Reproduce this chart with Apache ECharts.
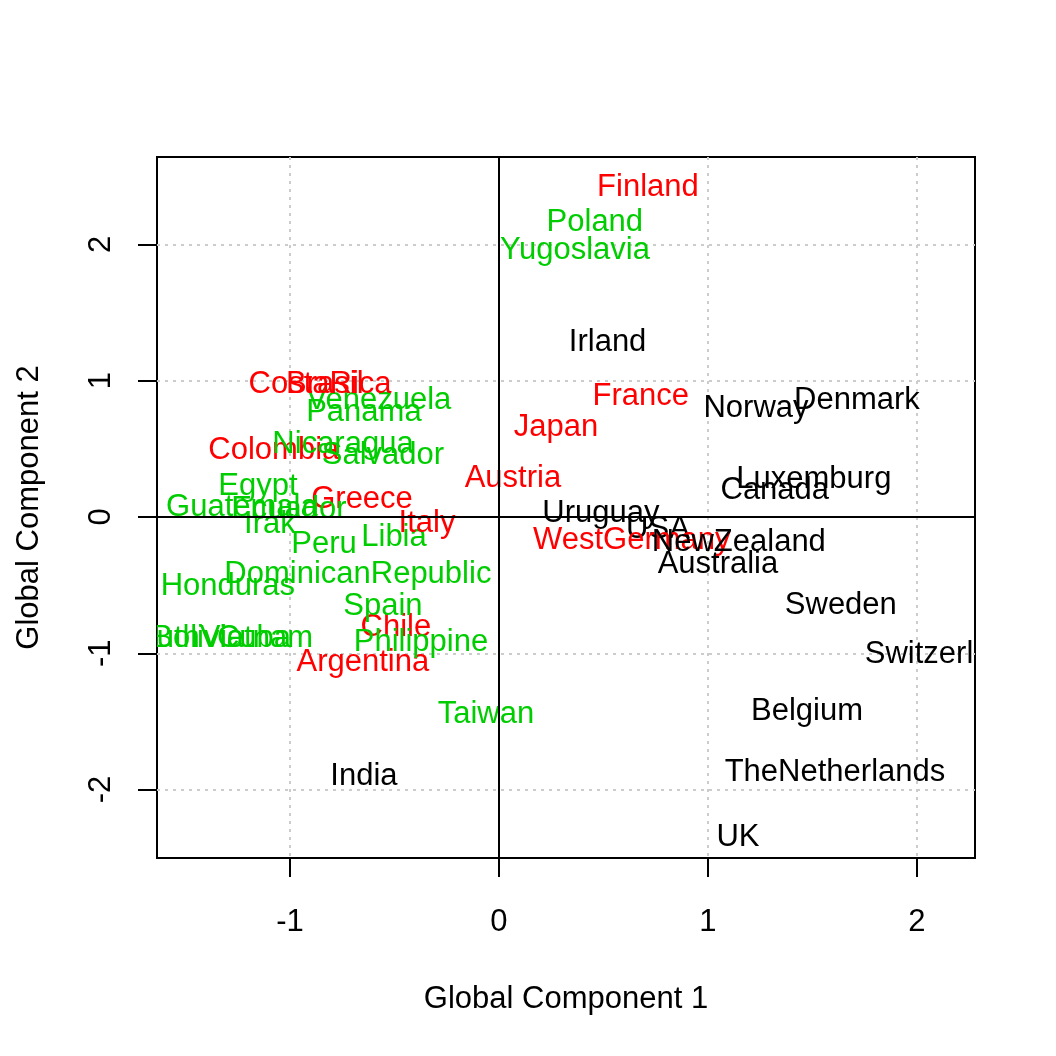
<!DOCTYPE html>
<html>
<head>
<meta charset="utf-8">
<script src="https://cdn.jsdelivr.net/npm/echarts@6/dist/echarts.min.js"></script>
<style>
  html, body { margin: 0; padding: 0; background: #fff; }
  #chart { width: 1056px; height: 1056px; }
</style>
</head>
<body>
<div id="chart"></div>
<script>
// countries and their scores on the two global components
var countries = ['Finland', 'Poland', 'Yugoslavia', 'Irland', 'France', 'Norway', 'Denmark', 'Japan',
    'Luxemburg', 'Canada', 'Austria', 'Uruguay', 'USA', 'WestGermany', 'NewZealand', 'Australia',
    'Sweden', 'Switzerland', 'Belgium', 'TheNetherlands', 'UK', 'India', 'Taiwan', 'Argentina',
    'Chile', 'Philippine', 'Spain', 'DominicanRepublic', 'Honduras', 'SouthVietnam', 'Cuba', 'Bolivia',
    'Peru', 'Libia', 'Italy', 'Greece', 'Irak', 'Ecuador', 'Guatemala', 'Egypt',
    'Colombia', 'Nicaragua', 'Salvador', 'Panama', 'Venezuela', 'CostaRica', 'Brasil'];

var comp1 = [0.713, 0.459, 0.364, 0.52, 0.679, 1.23, 1.713, 0.273,
    1.507, 1.32, 0.067, 0.488, 0.761, 0.636, 1.148, 1.048,
    1.636, 2.134, 1.474, 1.608, 1.144, -0.646, -0.062, -0.651,
    -0.493, -0.373, -0.555, -0.675, -1.297, -1.354, -1.172, -1.44,
    -0.837, -0.502, -0.344, -0.655, -1.096, -1.005, -1.23, -1.153,
    -1.077, -0.746, -0.555, -0.646, -0.574, -0.856, -0.833];

var comp2 = [2.435, 2.18, 1.974, 1.30, 0.90, 0.814, 0.873, 0.675,
    0.293, 0.213, 0.30, 0.044, -0.073, -0.154, -0.169, -0.33,
    -0.631, -0.99, -1.41, -1.856, -2.333, -1.886, -1.43, -1.05,
    -0.79, -0.90, -0.64, -0.40, -0.49, -0.873, -0.873, -0.873,
    -0.18, -0.13, -0.03, 0.147, -0.037, 0.073, 0.088, 0.24,
    0.506, 0.55, 0.47, 0.785, 0.873, 0.99, 0.99];

// 0 = black, 1 = red, 2 = green
var group = [1, 2, 2, 0, 1, 0, 0, 1,
    0, 0, 1, 0, 0, 1, 0, 0,
    0, 0, 0, 0, 0, 0, 2, 1,
    1, 2, 2, 2, 2, 2, 2, 2,
    2, 2, 1, 1, 2, 2, 2, 2,
    1, 2, 2, 2, 2, 1, 1];

var groupColors = ['#000000', '#FF0000', '#00CD00'];
var xTicks = [-1, 0, 1, 2];
var yTicks = [-2, -1, 0, 1, 2];

var font = "'Liberation Sans', Arial, sans-serif";

var points = [];
for (var i = 0; i < countries.length; i++) {
    points.push([comp1[i], comp2[i], group[i], countries[i]]);
}

var chart = echarts.init(document.getElementById('chart'));

chart.setOption({
    animation: false,
    backgroundColor: '#fff',
    grid: {
        left: 157, top: 157, width: 818, height: 701,
        show: true, borderColor: '#000', borderWidth: 2, backgroundColor: 'transparent'
    },
    xAxis: {
        type: 'value', min: -1.636, max: 2.278,
        name: 'Global Component 1', nameLocation: 'middle', nameGap: 126,
        nameTextStyle: {fontFamily: font, fontSize: 31, color: '#000'},
        axisLine: {show: false, onZero: false},
        axisTick: {show: true, length: 19, customValues: xTicks, lineStyle: {color: '#000', width: 2}},
        axisLabel: {customValues: xTicks, margin: 49, fontFamily: font, fontSize: 31, color: '#000'},
        splitLine: {show: true, lineStyle: {color: '#cccccc', type: [3, 5], width: 2}}
    },
    yAxis: {
        type: 'value', min: -2.502, max: 2.641,
        name: 'Global Component 2', nameLocation: 'middle', nameGap: 112, nameRotate: 90,
        nameTextStyle: {fontFamily: font, fontSize: 31, color: '#000'},
        axisLine: {show: false, onZero: false},
        axisTick: {show: true, length: 19, customValues: yTicks, lineStyle: {color: '#000', width: 2}},
        axisLabel: {customValues: yTicks, rotate: 90, margin: 40, fontFamily: font, fontSize: 31, color: '#000'},
        splitLine: {show: true, lineStyle: {color: '#cccccc', type: [3, 5], width: 2}}
    },
    series: [{
        type: 'custom',
        clip: true,
        data: points,
        renderItem: function (params, api) {
            var p = api.coord([api.value(0), api.value(1)]);
            var d = points[params.dataIndex];
            return {
                type: 'text',
                x: p[0], y: p[1] + 2.5,
                style: {
                    text: d[3],
                    fill: groupColors[d[2]],
                    font: '31px ' + font,
                    textAlign: 'center',
                    textVerticalAlign: 'middle'
                }
            };
        },
        markLine: {
            silent: true,
            symbol: 'none',
            label: {show: false},
            lineStyle: {color: '#000', type: 'solid', width: 2},
            data: [{xAxis: 0}, {yAxis: 0}]
        }
    }]
});
</script>
</body>
</html>
